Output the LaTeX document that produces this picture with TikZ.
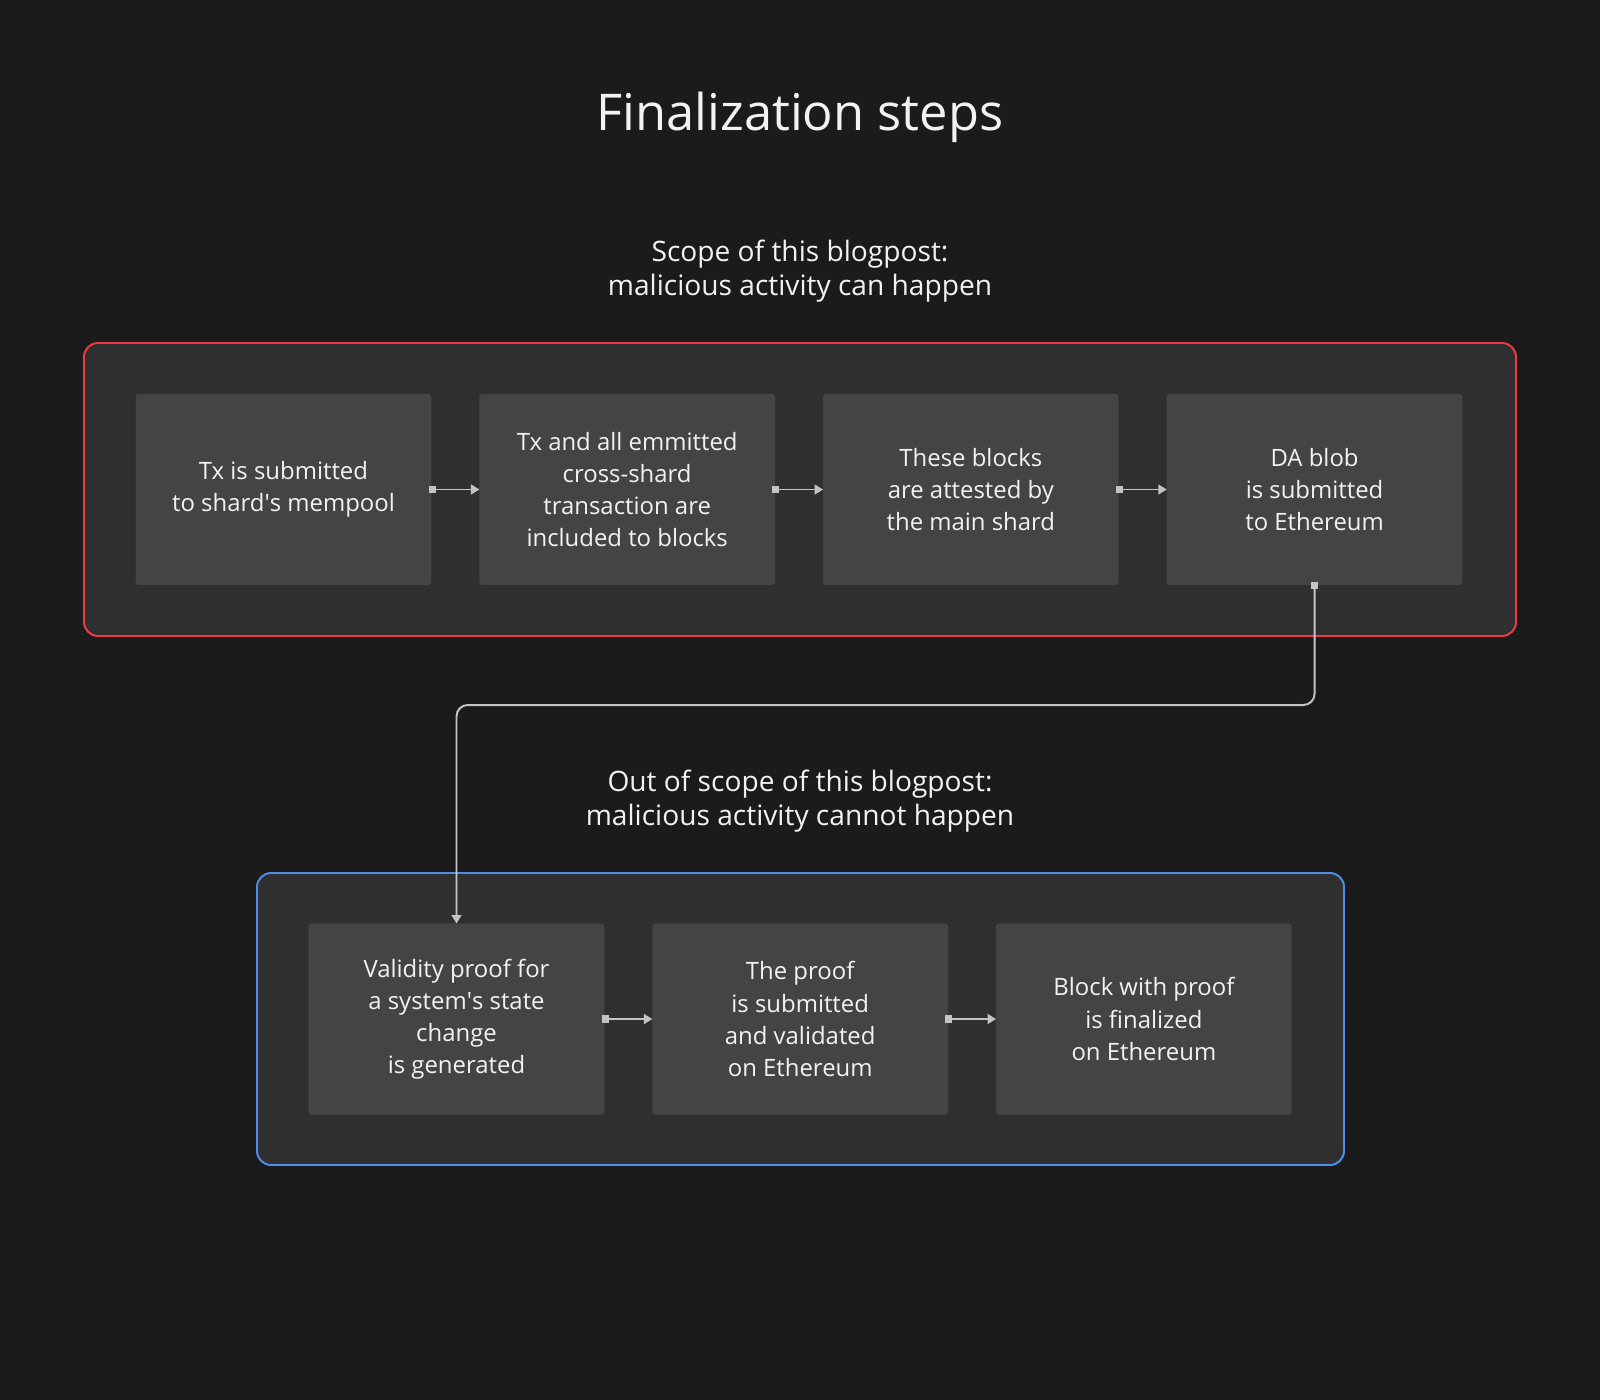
\documentclass[tikz,border=0pt]{standalone}
\usepackage{fontspec}
\setmainfont{Open Sans}
\usepackage{tikz}
\usetikzlibrary{arrows.meta, positioning}

\definecolor{bgdark}{HTML}{1B1B1B}
\definecolor{panelgray}{HTML}{2F2F2F}
\definecolor{boxgray}{HTML}{444444}
\definecolor{linegray}{HTML}{C4C4C4}
\definecolor{textwhite}{HTML}{F2F2F2}
\definecolor{scopered}{HTML}{EE3A46}
\definecolor{scopeblue}{HTML}{4F8EE6}

\begin{document}
\begin{tikzpicture}[x=0.025cm, y=-0.025cm,
    stepbox/.style={fill=boxgray, rounded corners=2pt, minimum width=7.39cm,
      minimum height=4.775cm, outer sep=0pt, align=center, text=textwhite,
      font=\fontsize{17}{22.8}\selectfont},
    flow/.style={draw=linegray, line width=1.4pt, shorten <=-2pt,
      {Square[length=5pt, width=5pt]}-{Triangle[length=6pt, width=7pt]}},
    heading/.style={text=textwhite, align=center,
      font=\fontsize{20}{24.2}\selectfont}]
  \fill[bgdark] (0,0) rectangle (1600,1400);

  % title
  \node[text=textwhite, font=\fontsize{36}{40}\selectfont] (title) at (800,117) {Finalization steps};

  % upper panel
  \node[heading] (upperhead) at (800,271) {Scope of this blogpost:\\malicious activity can happen};
  \draw[scopered, fill=panelgray, line width=1.4pt, rounded corners=10pt] (84,343) rectangle (1516,636);
  \node[stepbox] (s1) at (283.5,489.5) {Tx is submitted\\to shard\textquotesingle s mempool};
  \node[stepbox, right=1.2cm of s1] (s2) {Tx and all emmitted\\cross-shard\\transaction are\\included to blocks};
  \node[stepbox, right=1.2cm of s2] (s3) {These blocks\\are attested by\\the main shard};
  \node[stepbox, right=1.2cm of s3] (s4) {DA blob\\is submitted\\to Ethereum};

  % lower panel
  \node[heading] (lowerhead) at (800,801) {Out of scope of this blogpost:\\malicious activity cannot happen};
  \draw[scopeblue, fill=panelgray, line width=1.4pt, rounded corners=10pt] (257,873) rectangle (1344,1165);
  \node[stepbox] (f1) at (456.5,1019) {Validity proof for\\a system\textquotesingle s state\\change\\is generated};
  \node[stepbox, right=1.2cm of f1] (f2) {The proof\\is submitted\\and validated\\on Ethereum};
  \node[stepbox, right=1.2cm of f2] (f3) {Block with proof\\is finalized\\on Ethereum};

  % connectors
  \draw[flow] (s1) -- (s2);
  \draw[flow] (s2) -- (s3);
  \draw[flow] (s3) -- (s4);
  \draw[flow, rounded corners=8pt] (s4.south) -- ++(0,120) -| (f1.north);
  \draw[flow] (f1) -- (f2);
  \draw[flow] (f2) -- (f3);
\end{tikzpicture}
\end{document}
